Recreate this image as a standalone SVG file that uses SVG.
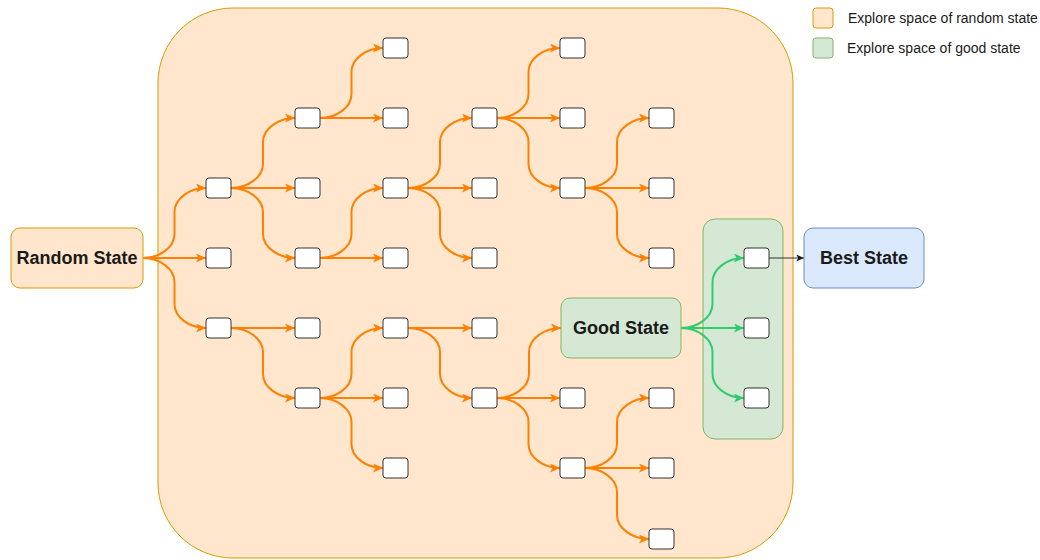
<svg xmlns="http://www.w3.org/2000/svg" width="1040" height="560" viewBox="0 0 1040 560">
<defs>
<style>
.box{fill:#ffffff;stroke:#333333;stroke-width:1}
.o{fill:none;stroke:#ff8000;stroke-width:2;marker-end:url(#ao)}
.g{fill:none;stroke:#2ecc71;stroke-width:2;marker-end:url(#ag)}
.k{fill:none;stroke:#333333;stroke-width:1;marker-end:url(#ak)}
.lbl{font-family:"Liberation Sans",Arial,sans-serif;font-weight:bold;font-size:18px;fill:#1a1a1a;text-anchor:middle;dominant-baseline:central}
.leg{font-family:"Liberation Sans",Arial,sans-serif;font-size:14px;fill:#1a1a1a;dominant-baseline:central}
</style>
<marker id="ao" markerUnits="userSpaceOnUse" viewBox="0 0 10 9" markerWidth="10" markerHeight="9" refX="10" refY="4.5" orient="auto"><path d="M0,0 L10,4.5 L0,9 L2.5,4.5 z" fill="#ff8000"/></marker>
<marker id="ag" markerUnits="userSpaceOnUse" viewBox="0 0 10 9" markerWidth="10" markerHeight="9" refX="10" refY="4.5" orient="auto"><path d="M0,0 L10,4.5 L0,9 L2.5,4.5 z" fill="#2ecc71"/></marker>
<marker id="ak" markerUnits="userSpaceOnUse" viewBox="0 0 10 9" markerWidth="8" markerHeight="7" refX="10" refY="4.5" orient="auto"><path d="M0,0 L10,4.5 L0,9 L2.5,4.5 z" fill="#1a1a1a"/></marker>
</defs>

<g id="random-space">
<rect x="158" y="8" width="635" height="550" rx="75" fill="#ffe6cc" stroke="#d79b00" stroke-width="1"/>
</g>
<g id="good-space">
<rect x="703" y="219" width="80" height="220" rx="12" fill="#d5e8d4" stroke="#82b366" stroke-width="1"/>
</g>

<g id="legend">
<rect x="813" y="8" width="20" height="20" rx="3" fill="#ffe6cc" stroke="#d79b00"/>
<text class="leg" x="848" y="18">Explore space of random state</text>
<rect x="813" y="38" width="20" height="20" rx="3" fill="#d5e8d4" stroke="#82b366"/>
<text class="leg" x="847" y="48">Explore space of good state</text>
</g>

<g id="connectors">
<path class="o" d="M143,258 C160,258 174.5,247 174.5,234 L174.5,212 C174.5,199 189,188 206,188"/>
<path class="o" d="M143,258 L206,258"/>
<path class="o" d="M143,258 C160,258 174.5,269 174.5,282 L174.5,304 C174.5,317 189,328 206,328"/>
<path class="o" d="M231,188 C248,188 263,177 263,164 L263,142 C263,129 278,118 295,118"/>
<path class="o" d="M231,188 L295,188"/>
<path class="o" d="M231,188 C248,188 263,199 263,212 L263,234 C263,247 278,258 295,258"/>
<path class="o" d="M231,328 L295,328"/>
<path class="o" d="M231,328 C248,328 263,339 263,352 L263,374 C263,387 278,398 295,398"/>
<path class="o" d="M320,118 C337,118 351.5,107 351.5,94 L351.5,72 C351.5,59 366,48 383,48"/>
<path class="o" d="M320,118 L383,118"/>
<path class="o" d="M320,258 C337,258 351.5,247 351.5,234 L351.5,212 C351.5,199 366,188 383,188"/>
<path class="o" d="M320,258 L383,258"/>
<path class="o" d="M320,398 C337,398 351.5,387 351.5,374 L351.5,352 C351.5,339 366,328 383,328"/>
<path class="o" d="M320,398 L383,398"/>
<path class="o" d="M320,398 C337,398 351.5,409 351.5,422 L351.5,444 C351.5,457 366,468 383,468"/>
<path class="o" d="M408,188 C425,188 440,177 440,164 L440,142 C440,129 455,118 472,118"/>
<path class="o" d="M408,188 L472,188"/>
<path class="o" d="M408,188 C425,188 440,199 440,212 L440,234 C440,247 455,258 472,258"/>
<path class="o" d="M408,328 L472,328"/>
<path class="o" d="M408,328 C425,328 440,339 440,352 L440,374 C440,387 455,398 472,398"/>
<path class="o" d="M497,118 C514,118 528.5,107 528.5,94 L528.5,72 C528.5,59 543,48 560,48"/>
<path class="o" d="M497,118 L560,118"/>
<path class="o" d="M497,118 C514,118 528.5,129 528.5,142 L528.5,164 C528.5,177 543,188 560,188"/>
<path class="o" d="M497,398 C514,398 529,387 529,374 L529,352 C529,339 544,328 561,328"/>
<path class="o" d="M497,398 L560,398"/>
<path class="o" d="M497,398 C514,398 528.5,409 528.5,422 L528.5,444 C528.5,457 543,468 560,468"/>
<path class="o" d="M585,188 C602,188 617,177 617,164 L617,142 C617,129 632,118 649,118"/>
<path class="o" d="M585,188 L649,188"/>
<path class="o" d="M585,188 C602,188 617,199 617,212 L617,234 C617,247 632,258 649,258"/>
<path class="o" d="M585,468 C602,468 617,457 617,444 L617,422 C617,409 632,398 649,398"/>
<path class="o" d="M585,468 L649,468"/>
<path class="o" d="M585,468 C602,468 617,479 617,492 L617,515 C617,528 632,539 649,539"/>
<path class="g" d="M681,328 C698,328 712.5,317 712.5,304 L712.5,282 C712.5,269 727,258 744,258"/>
<path class="g" d="M681,328 L744,328"/>
<path class="g" d="M681,328 C698,328 712.5,339 712.5,352 L712.5,374 C712.5,387 727,398 744,398"/>
<path class="k" d="M769,258 L804,258"/>
</g>

<g id="random-state">
<rect x="11" y="228" width="132" height="60" rx="9" fill="#ffe6cc" stroke="#d79b00"/>
<text class="lbl" x="77" y="258">Random State</text>
</g>
<g id="good-state">
<rect x="561" y="298" width="120" height="60" rx="9" fill="#d5e8d4" stroke="#82b366"/>
<text class="lbl" x="621" y="328">Good State</text>
</g>
<g id="best-state">
<rect x="804" y="228" width="120" height="60" rx="9" fill="#dae8fc" stroke="#6c8ebf"/>
<text class="lbl" x="864" y="258">Best State</text>
</g>

<g id="c1-r188"><rect class="box" x="206" y="178" width="25" height="20" rx="3"/></g>
<g id="c1-r258"><rect class="box" x="206" y="248" width="25" height="20" rx="3"/></g>
<g id="c1-r328"><rect class="box" x="206" y="318" width="25" height="20" rx="3"/></g>

<g id="c2-r118"><rect class="box" x="295" y="108" width="25" height="20" rx="3"/></g>
<g id="c2-r188"><rect class="box" x="295" y="178" width="25" height="20" rx="3"/></g>
<g id="c2-r258"><rect class="box" x="295" y="248" width="25" height="20" rx="3"/></g>
<g id="c2-r328"><rect class="box" x="295" y="318" width="25" height="20" rx="3"/></g>
<g id="c2-r398"><rect class="box" x="295" y="388" width="25" height="20" rx="3"/></g>

<g id="c3-r48"><rect class="box" x="383" y="38" width="25" height="20" rx="3"/></g>
<g id="c3-r118"><rect class="box" x="383" y="108" width="25" height="20" rx="3"/></g>
<g id="c3-r188"><rect class="box" x="383" y="178" width="25" height="20" rx="3"/></g>
<g id="c3-r258"><rect class="box" x="383" y="248" width="25" height="20" rx="3"/></g>
<g id="c3-r328"><rect class="box" x="383" y="318" width="25" height="20" rx="3"/></g>
<g id="c3-r398"><rect class="box" x="383" y="388" width="25" height="20" rx="3"/></g>
<g id="c3-r468"><rect class="box" x="383" y="458" width="25" height="20" rx="3"/></g>

<g id="c4-r118"><rect class="box" x="472" y="108" width="25" height="20" rx="3"/></g>
<g id="c4-r188"><rect class="box" x="472" y="178" width="25" height="20" rx="3"/></g>
<g id="c4-r258"><rect class="box" x="472" y="248" width="25" height="20" rx="3"/></g>
<g id="c4-r328"><rect class="box" x="472" y="318" width="25" height="20" rx="3"/></g>
<g id="c4-r398"><rect class="box" x="472" y="388" width="25" height="20" rx="3"/></g>

<g id="c5-r48"><rect class="box" x="560" y="38" width="25" height="20" rx="3"/></g>
<g id="c5-r118"><rect class="box" x="560" y="108" width="25" height="20" rx="3"/></g>
<g id="c5-r188"><rect class="box" x="560" y="178" width="25" height="20" rx="3"/></g>
<g id="c5-r398"><rect class="box" x="560" y="388" width="25" height="20" rx="3"/></g>
<g id="c5-r468"><rect class="box" x="560" y="458" width="25" height="20" rx="3"/></g>

<g id="c6-r118"><rect class="box" x="649" y="108" width="25" height="20" rx="3"/></g>
<g id="c6-r188"><rect class="box" x="649" y="178" width="25" height="20" rx="3"/></g>
<g id="c6-r258"><rect class="box" x="649" y="248" width="25" height="20" rx="3"/></g>
<g id="c6-r398"><rect class="box" x="649" y="388" width="25" height="20" rx="3"/></g>
<g id="c6-r468"><rect class="box" x="649" y="458" width="25" height="20" rx="3"/></g>
<g id="c6-r539"><rect class="box" x="649" y="529" width="25" height="20" rx="3"/></g>

<g id="g-r258"><rect class="box" x="744" y="248" width="25" height="20" rx="3"/></g>
<g id="g-r328"><rect class="box" x="744" y="318" width="25" height="20" rx="3"/></g>
<g id="g-r398"><rect class="box" x="744" y="388" width="25" height="20" rx="3"/></g>
</svg>
